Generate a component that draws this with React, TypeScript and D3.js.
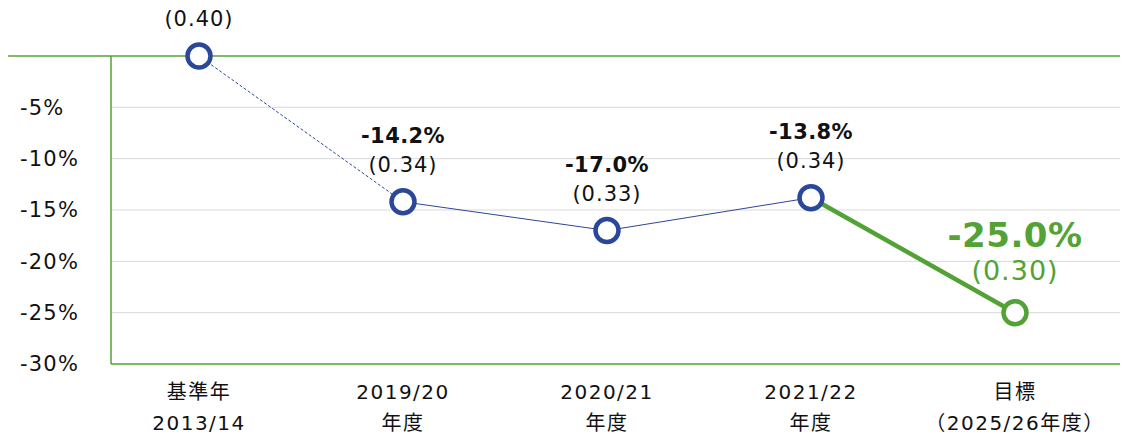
import React from "react";
import * as d3 from "d3";

const categoriesLine1 = ["基準年", "2019/20", "2020/21", "2021/22", "目標"];
const categoriesLine2 = ["2013/14", "年度", "年度", "年度", "（2025/26年度）"];
const changeValues = [0, -14.2, -17.0, -13.8, -25.0];
const changeLabels = ["", "-14.2%", "-17.0%", "-13.8%", "-25.0%"];
const intensityLabels = ["(0.40)", "(0.34)", "(0.33)", "(0.34)", "(0.30)"];
const yTicks = [-5, -10, -15, -20, -25, -30];

const W = 1125;
const H = 436;
const BLUE = "#2B479A";
const GREEN = "#53A235";
const FONT = "'DejaVu Sans', 'Noto Sans CJK JP', sans-serif";

export default function App() {
  const x = d3.scaleBand<number>().domain(d3.range(5)).range([97, 1117]).padding(0);
  const cx = (i: number) => (x(i) as number) + x.bandwidth() / 2;
  const y = d3.scaleLinear().domain([-30, 0]).range([364, 56]);
  const plotLeft = 111;
  const plotRight = 1120;

  const seg = d3
    .line<{ v: number; i: number }>()
    .x((d) => cx(d.i))
    .y((d) => y(d.v));

  const pts = changeValues.map((v, i) => ({ v, i }));

  return (
    <svg width={W} height={H} style={{ position: "absolute", left: 0, top: 0, fontFamily: FONT }}>
      <rect width={W} height={H} fill="#fff" />
      {yTicks.slice(0, 5).map((t) => (
        <line key={t} x1={plotLeft} x2={plotRight} y1={y(t)} y2={y(t)} stroke="#d9d9d9" strokeWidth={1} />
      ))}
      <line x1={8} x2={plotRight} y1={y(0)} y2={y(0)} stroke={GREEN} strokeWidth={1.5} />
      <line x1={plotLeft} x2={plotRight} y1={y(-30)} y2={y(-30)} stroke={GREEN} strokeWidth={1.5} />
      <line x1={plotLeft} x2={plotLeft} y1={y(0)} y2={y(-30)} stroke={GREEN} strokeWidth={1.5} />
      {yTicks.map((t) => (
        <text key={t} x={20} y={y(t)} dy="0.35em" fontSize={21} letterSpacing={1.2} fill="#111">
          {`${t}%`}
        </text>
      ))}
      <path d={seg(pts.slice(0, 2)) || ""} fill="none" stroke={BLUE} strokeWidth={1} strokeDasharray="3,2" />
      <path d={seg(pts.slice(1, 4)) || ""} fill="none" stroke={BLUE} strokeWidth={1} />
      <path d={seg(pts.slice(3, 5)) || ""} fill="none" stroke={GREEN} strokeWidth={4.5} />
      {pts.map((p) => (
        <circle key={p.i} cx={cx(p.i)} cy={y(p.v)} r={11.5} fill="#fff" stroke={p.i === 4 ? GREEN : BLUE} strokeWidth={4.5} />
      ))}
      {pts.map((p) => {
        const isTarget = p.i === 4;
        const py = y(p.v);
        return (
          <g key={"l" + p.i}>
            {changeLabels[p.i] && (
              <text
                x={cx(p.i)}
                y={isTarget ? py - 78 : py - 66}
                dy="0.35em"
                textAnchor="middle"
                fontWeight="bold"
                fontSize={isTarget ? 34 : 21}
                letterSpacing={isTarget ? 0.5 : 0.4}
                fill={isTarget ? GREEN : "#111"}
              >
                {changeLabels[p.i]}
              </text>
            )}
            <text
              x={cx(p.i)}
              y={isTarget ? py - 42 : py - 37}
              dy="0.35em"
              textAnchor="middle"
              fontSize={isTarget ? 27 : 21}
              letterSpacing={1}
              fill={isTarget ? GREEN : "#111"}
            >
              {intensityLabels[p.i]}
            </text>
          </g>
        );
      })}
      {categoriesLine1.map((c, i) => (
        <g key={"c" + i}>
          <text x={cx(i)} y={392} dy="0.35em" textAnchor="middle" fontSize={20} letterSpacing={1.5} fill="#111">
            {c}
          </text>
          <text x={cx(i)} y={423} dy="0.35em" textAnchor="middle" fontSize={20} letterSpacing={1.5} fill="#111">
            {categoriesLine2[i]}
          </text>
        </g>
      ))}
    </svg>
  );
}
